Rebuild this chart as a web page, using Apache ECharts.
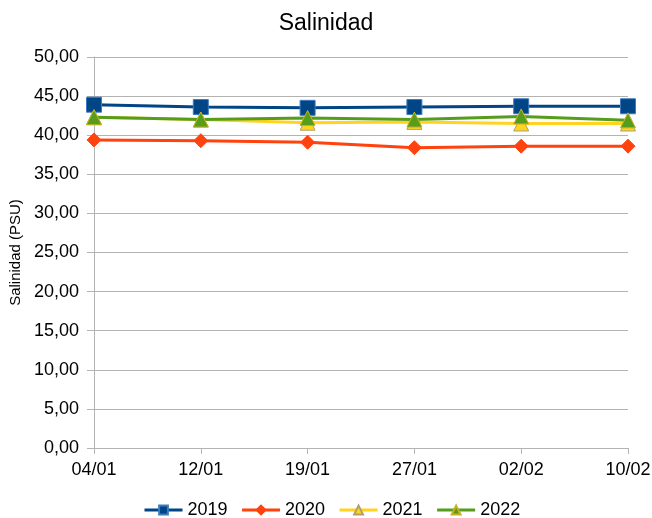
<!DOCTYPE html>
<html>
<head>
<meta charset="utf-8">
<script src="https://cdn.jsdelivr.net/npm/echarts@6/dist/echarts.min.js"></script>
<style>
  html, body { margin: 0; padding: 0; background: #fff; }
  #chart { width: 652px; height: 518px; }
</style>
</head>
<body>
<div id="chart"></div>
<script>
// fechas de muestreo
const fechas = ['04/01', '12/01', '19/01', '27/01', '02/02', '10/02']
const s2019 = [43.9, 43.6, 43.5, 43.6, 43.7, 43.7]
const s2020 = [39.4, 39.3, 39.1, 38.4, 38.6, 38.6]
const s2021 = [42.3, 42.0, 41.6, 41.7, 41.5, 41.5]
const s2022 = [42.3, 42.0, 42.2, 42.0, 42.4, 41.9]

const myChart = echarts.init(document.getElementById('chart'))
const font = 'Liberation Sans'

function serie (name, data, color, symbol, size, border) {
  return {
    name: name,
    type: 'line',
    data: data,
    symbol: symbol,
    symbolSize: size,
    color: color,
    lineStyle: { color: color, width: 3 },
    itemStyle: { color: color, borderColor: border || color, borderWidth: 1 },
    z: 2
  }
}

const option = {
  animation: false,
  textStyle: { fontFamily: font },
  title: {
    text: 'Salinidad',
    left: 'center',
    top: 7,
    textStyle: { fontFamily: font, fontSize: 23, fontWeight: 'normal', color: '#000' }
  },
  legend: {
    top: 496,
    left: 138,
    itemWidth: 38,
    itemHeight: 11,
    itemGap: 13,
    lineStyle: { width: 3 },
    textStyle: { fontFamily: font, fontSize: 18, color: '#000' },
    data: ['2019', '2020', '2021', '2022']
  },
  grid: { left: 94, right: 24, top: 57, bottom: 70, outerBoundsMode: 'none' },
  xAxis: {
    type: 'category',
    data: fechas,
    boundaryGap: false,
    axisLine: { lineStyle: { color: '#b3b3b3' } },
    axisTick: { show: true, length: 6, lineStyle: { color: '#b3b3b3' } },
    axisLabel: { color: '#000', fontSize: 18, margin: 13, fontFamily: font },
    splitLine: { show: false }
  },
  yAxis: {
    type: 'value',
    min: 0,
    max: 50,
    interval: 5,
    name: 'Salinidad (PSU)',
    nameLocation: 'middle',
    nameGap: 68,
    nameTextStyle: { color: '#000', fontSize: 15, fontFamily: font },
    axisLine: { show: true, lineStyle: { color: '#b3b3b3' } },
    axisTick: { show: true, length: 7, lineStyle: { color: '#b3b3b3' } },
    axisLabel: {
      color: '#000', fontSize: 18, margin: 15, fontFamily: font,
      formatter: v => v.toFixed(2).replace('.', ',')
    },
    splitLine: { lineStyle: { color: '#b3b3b3' } }
  },
  series: [
    serie('2019', s2019, '#004586', 'rect', 15, '#3d7bbf'),
    serie('2020', s2020, '#ff420e', 'diamond', 14),
    serie('2021', s2021, '#ffd320', 'triangle', 15, '#b0a070'),
    serie('2022', s2022, '#579d1c', 'triangle', 15, '#c8b020')
  ]
}
myChart.setOption(option)
</script>
</body>
</html>
